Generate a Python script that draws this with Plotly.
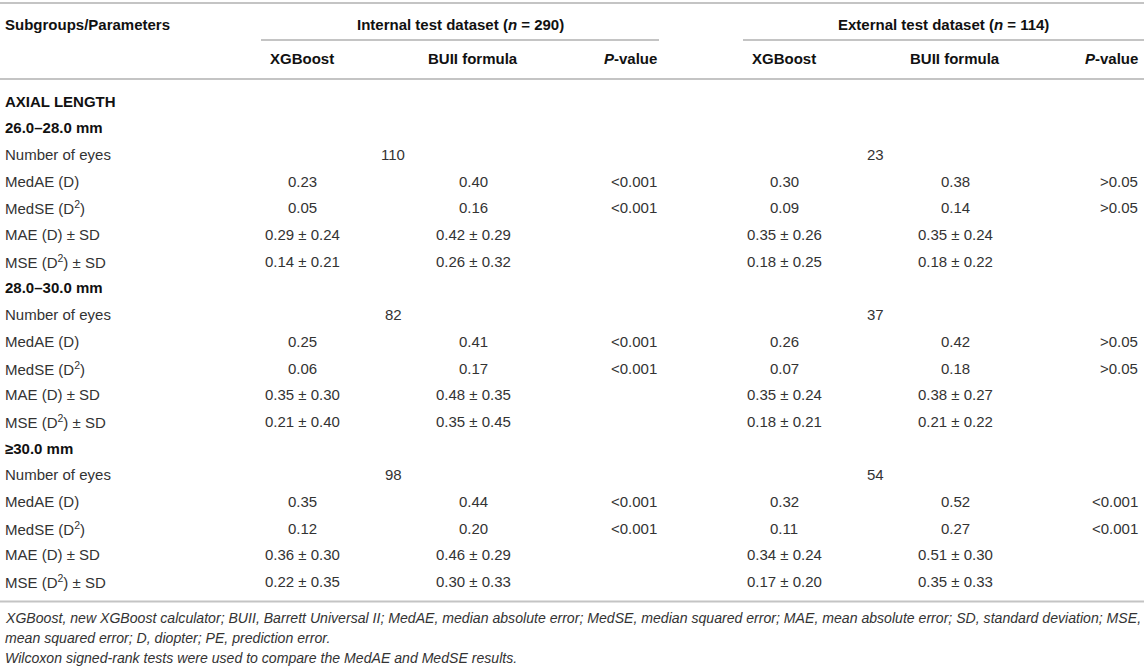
import plotly.graph_objects as go

# Datos de la tabla (tres subgrupos de longitud axial)
groups = ["26.0–28.0 mm", "28.0–30.0 mm", "≥30.0 mm"]

eyes_int = [110, 82, 98]
eyes_ext = [23, 37, 54]

# Internal test dataset
medae_int_xgb = [0.23, 0.25, 0.35]
medae_int_buii = [0.40, 0.41, 0.44]
medae_int_p = ["<0.001", "<0.001", "<0.001"]
medse_int_xgb = [0.05, 0.06, 0.12]
medse_int_buii = [0.16, 0.17, 0.20]
medse_int_p = ["<0.001", "<0.001", "<0.001"]
mae_int_xgb = [0.29, 0.35, 0.36]
mae_int_xgb_sd = [0.24, 0.30, 0.30]
mae_int_buii = [0.42, 0.48, 0.46]
mae_int_buii_sd = [0.29, 0.35, 0.29]
mse_int_xgb = [0.14, 0.21, 0.22]
mse_int_xgb_sd = [0.21, 0.40, 0.35]
mse_int_buii = [0.26, 0.35, 0.30]
mse_int_buii_sd = [0.32, 0.45, 0.33]

# External test dataset
medae_ext_xgb = [0.30, 0.26, 0.32]
medae_ext_buii = [0.38, 0.42, 0.52]
medae_ext_p = [">0.05", ">0.05", "<0.001"]
medse_ext_xgb = [0.09, 0.07, 0.11]
medse_ext_buii = [0.14, 0.18, 0.27]
medse_ext_p = [">0.05", ">0.05", "<0.001"]
mae_ext_xgb = [0.35, 0.35, 0.34]
mae_ext_xgb_sd = [0.26, 0.24, 0.24]
mae_ext_buii = [0.35, 0.38, 0.51]
mae_ext_buii_sd = [0.24, 0.27, 0.30]
mse_ext_xgb = [0.18, 0.18, 0.17]
mse_ext_xgb_sd = [0.25, 0.21, 0.20]
mse_ext_buii = [0.18, 0.21, 0.35]
mse_ext_buii_sd = [0.22, 0.22, 0.33]

row_labels = ["Number of eyes", "MedAE (D)", "MedSE (D<sup>2</sup>)",
              "MAE (D) ± SD", "MSE (D<sup>2</sup>) ± SD"]

footnotes = [
    "XGBoost, new XGBoost calculator; BUII, Barrett Universal II; MedAE, median absolute error; "
    "MedSE, median squared error; MAE, mean absolute error; SD, standard deviation; MSE,",
    "mean squared error; D, diopter; PE, prediction error.",
    "Wilcoxon signed-rank tests were used to compare the MedAE and MedSE results.",
]

# posiciones de columnas (px)
X_LABEL = 3
X_INT = [302, 473, 659]
X_EXT = [784, 955, 1140]
X_EYES = [393, 875]

FONT = "Liberation Sans"
BODY = "#333333"
HEAD = "#111111"
RULE = "#c4c4c4"

W, H = 1144, 667


def esc(s):
    return s.replace("<", "&lt;").replace(">", "&gt;")


def f2(v):
    return f"{v:.2f}"


def pm(a, b):
    return f"{a:.2f} ± {b:.2f}"


annots = []


def txt(x, y, s, anchor="center", bold=False, italic=False, size=15, color=BODY):
    if bold:
        s = f"<b>{s}</b>"
    if italic:
        s = f"<i>{s}</i>"
    annots.append(dict(x=x, y=y, xref="x", yref="y", text=s, showarrow=False,
                       xanchor=anchor, yanchor="middle",
                       font=dict(family=FONT, size=size, color=color)))


# cabecera
txt(X_LABEL, 24, "Subgroups/Parameters", "left", bold=True, color=HEAD)
txt(460, 24, "Internal test dataset (<i>n</i> = 290)", bold=True, color=HEAD)
txt(943, 24, "External test dataset (<i>n</i> = 114)", bold=True, color=HEAD)
for xs in (X_INT, X_EXT):
    txt(xs[0], 58, "XGBoost", bold=True, color=HEAD)
    txt(xs[1], 58, "BUII formula", bold=True, color=HEAD)
    txt(xs[2], 58, "<i>P</i>-value", "right", bold=True, color=HEAD)

Y0, STEP = 101, 26.7
row = 0
txt(X_LABEL, Y0, "AXIAL LENGTH", "left", bold=True, color=HEAD)
for g in range(len(groups)):
    row += 1
    txt(X_LABEL, Y0 + row * STEP, groups[g], "left", bold=True, color=HEAD)
    int_cells = [
        None,
        [f2(medae_int_xgb[g]), f2(medae_int_buii[g]), esc(medae_int_p[g])],
        [f2(medse_int_xgb[g]), f2(medse_int_buii[g]), esc(medse_int_p[g])],
        [pm(mae_int_xgb[g], mae_int_xgb_sd[g]), pm(mae_int_buii[g], mae_int_buii_sd[g]), ""],
        [pm(mse_int_xgb[g], mse_int_xgb_sd[g]), pm(mse_int_buii[g], mse_int_buii_sd[g]), ""],
    ]
    ext_cells = [
        None,
        [f2(medae_ext_xgb[g]), f2(medae_ext_buii[g]), esc(medae_ext_p[g])],
        [f2(medse_ext_xgb[g]), f2(medse_ext_buii[g]), esc(medse_ext_p[g])],
        [pm(mae_ext_xgb[g], mae_ext_xgb_sd[g]), pm(mae_ext_buii[g], mae_ext_buii_sd[g]), ""],
        [pm(mse_ext_xgb[g], mse_ext_xgb_sd[g]), pm(mse_ext_buii[g], mse_ext_buii_sd[g]), ""],
    ]
    for r, lab in enumerate(row_labels):
        row += 1
        y = Y0 + row * STEP
        txt(X_LABEL, y, lab, "left")
        if r == 0:
            txt(X_EYES[0], y, str(eyes_int[g]))
            txt(X_EYES[1], y, str(eyes_ext[g]))
            continue
        for cells, xs in ((int_cells[r], X_INT), (ext_cells[r], X_EXT)):
            txt(xs[0], y, cells[0])
            txt(xs[1], y, cells[1])
            if cells[2]:
                txt(xs[2], y, cells[2], "right")

y_bottom = Y0 + row * STEP + 20
for i, line in enumerate(footnotes):
    txt(X_LABEL, y_bottom + 16 + i * 20, line, "left", italic=True, size=14.1)

rule = dict(type="line", xref="x", yref="y", line=dict(color=RULE, width=2))
shapes = [
    dict(rule, x0=0, x1=W, y0=3, y1=3),
    dict(rule, x0=261, x1=659, y0=40, y1=40),
    dict(rule, x0=743, x1=W, y0=40, y1=40),
    dict(rule, x0=0, x1=W, y0=79, y1=79),
    dict(rule, x0=0, x1=W, y0=y_bottom, y1=y_bottom),
]

fig = go.Figure()
fig.add_trace(go.Scatter(x=[0, W], y=[0, H], mode="markers",
                         marker=dict(opacity=0), hoverinfo="skip"))
fig.update_layout(
    width=W, height=H,
    margin=dict(l=0, r=0, t=0, b=0),
    paper_bgcolor="white", plot_bgcolor="white",
    showlegend=False,
    xaxis=dict(range=[0, W], visible=False, fixedrange=True),
    yaxis=dict(range=[H, 0], visible=False, fixedrange=True),
    annotations=annots,
    shapes=shapes,
)

fig.write_html("out.html", config={"displayModeBar": False},
               post_script="document.body.style.margin='0';"
                           "document.body.style.overflow='hidden';")
